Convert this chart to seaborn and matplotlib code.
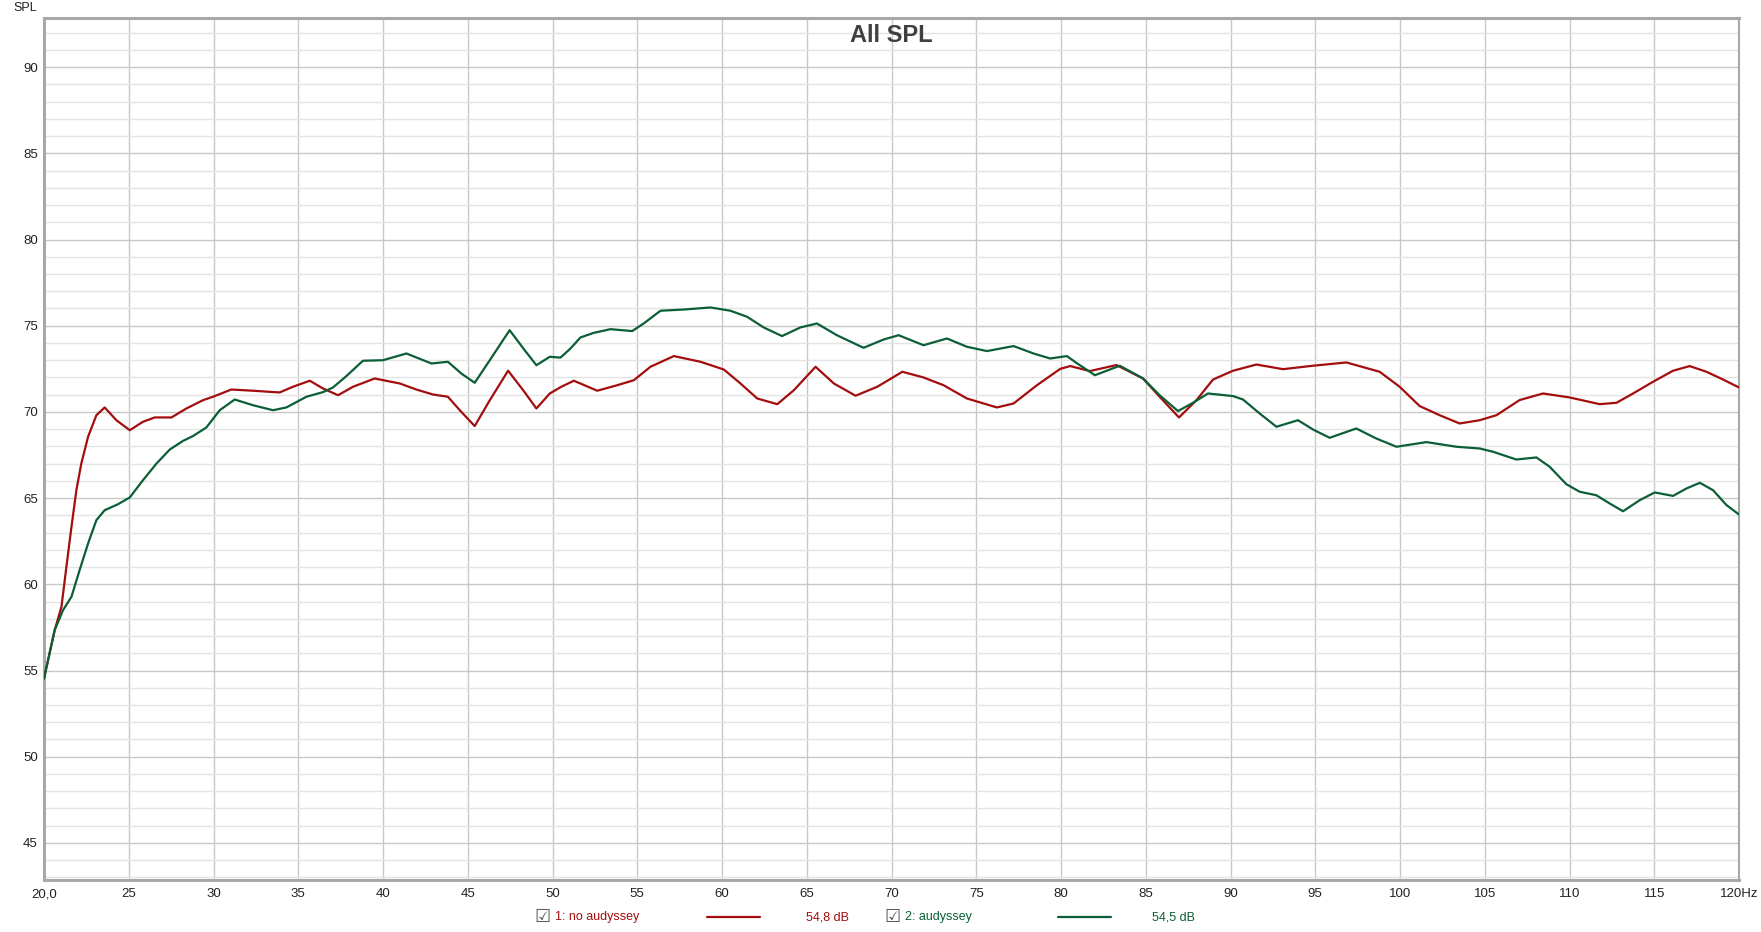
import numpy as np
import pandas as pd
import matplotlib
matplotlib.use("Agg")
import matplotlib.pyplot as plt
import seaborn as sns
from matplotlib.ticker import MultipleLocator

red_hz = [20.0, 20.63, 21.03, 21.32, 21.62, 21.91, 22.2, 22.6, 23.09, 23.58,
          24.27, 25.06, 25.84, 26.53, 27.52, 28.4, 29.38, 29.97, 31.05, 32.33,
          33.9, 34.69, 35.68, 36.46, 37.35, 38.23, 39.51, 40.99, 41.97, 42.95,
          43.83, 44.53, 45.41, 46.3, 47.38, 48.27, 49.05, 49.84, 50.5, 51.26,
          52.64, 53.82, 54.8, 55.78, 57.16, 58.73, 60.11, 61.09, 62.08, 63.26,
          64.24, 65.52, 66.6, 67.88, 69.16, 70.64, 71.89, 73.07, 74.45, 76.22,
          77.2, 78.58, 79.96, 80.55, 81.7, 83.27, 84.84, 85.82, 86.96, 87.99,
          88.97, 90.15, 91.53, 93.1, 94.87, 96.84, 98.8, 99.98, 101.16, 102.34,
          103.52, 104.7, 105.69, 107.06, 108.44, 110.01, 111.78, 112.77, 113.75, 114.93,
          116.11, 117.09, 118.08, 119.06, 120.0]
red_db = [54.54, 57.34, 58.7, 61.0, 63.33, 65.46, 67.0, 68.56, 69.81, 70.26,
          69.52, 68.94, 69.43, 69.68, 69.68, 70.2, 70.68, 70.88, 71.3, 71.23,
          71.13, 71.46, 71.81, 71.36, 70.97, 71.46, 71.94, 71.65, 71.3, 71.01,
          70.88, 70.1, 69.18, 70.68, 72.39, 71.26, 70.2, 71.07, 71.45, 71.81,
          71.23, 71.55, 71.84, 72.62, 73.24, 72.91, 72.46, 71.65, 70.78, 70.45,
          71.26, 72.62, 71.65, 70.94, 71.46, 72.33, 72.0, 71.55, 70.78, 70.26,
          70.49, 71.55, 72.5, 72.66, 72.37, 72.72, 71.94, 70.88, 69.68, 70.68,
          71.88, 72.39, 72.75, 72.48, 72.68, 72.87, 72.33, 71.46, 70.34, 69.81,
          69.33, 69.52, 69.81, 70.69, 71.07, 70.84, 70.45, 70.53, 71.07, 71.75,
          72.39, 72.66, 72.33, 71.88, 71.42]

green_hz = [20.0, 20.63, 21.12, 21.62, 22.1, 22.6, 23.09, 23.58, 24.37, 25.06,
            25.84, 26.63, 27.42, 28.2, 28.79, 29.58, 30.37, 31.25, 32.33, 33.51,
            34.3, 35.48, 36.46, 37.05, 37.84, 38.82, 40.0, 41.38, 42.86, 43.83,
            44.62, 45.41, 46.3, 47.47, 48.36, 49.05, 49.84, 50.47, 51.06, 51.65,
            52.44, 53.42, 54.7, 55.38, 56.37, 57.75, 59.32, 60.5, 61.48, 62.46,
            63.54, 64.62, 65.6, 66.78, 68.35, 69.53, 70.42, 71.89, 73.27, 74.45,
            75.63, 77.2, 78.38, 79.36, 80.35, 80.9, 82.0, 83.47, 84.84, 85.82,
            86.9, 87.79, 88.67, 90.15, 90.74, 91.72, 92.71, 93.98, 94.87, 95.85,
            97.42, 98.6, 99.79, 101.56, 103.33, 104.7, 105.49, 106.86, 108.05, 108.83,
            109.81, 110.6, 111.58, 112.37, 113.16, 114.14, 115.03, 116.11, 116.9, 117.69,
            118.47, 119.26, 120.0]
green_db = [54.54, 57.34, 58.5, 59.28, 60.82, 62.37, 63.72, 64.3, 64.65, 65.04,
            66.04, 67.0, 67.82, 68.32, 68.6, 69.1, 70.1, 70.72, 70.39, 70.1,
            70.26, 70.88, 71.15, 71.42, 72.08, 72.97, 73.0, 73.39, 72.81, 72.91,
            72.23, 71.69, 73.0, 74.74, 73.58, 72.71, 73.2, 73.15, 73.68, 74.32,
            74.59, 74.8, 74.69, 75.13, 75.87, 75.94, 76.06, 75.87, 75.52, 74.9,
            74.4, 74.9, 75.13, 74.45, 73.72, 74.2, 74.45, 73.87, 74.26, 73.78,
            73.53, 73.82, 73.39, 73.1, 73.24, 72.85, 72.13, 72.68, 71.94, 70.97,
            70.05, 70.53, 71.07, 70.92, 70.72, 69.91, 69.14, 69.52, 68.98, 68.5,
            69.04, 68.46, 67.98, 68.25, 67.98, 67.88, 67.69, 67.24, 67.36, 66.82,
            65.81, 65.37, 65.17, 64.69, 64.24, 64.88, 65.33, 65.13, 65.56, 65.89,
            65.46, 64.6, 64.05]

series_names = ["1: no audyssey", "2: audyssey"]
series_levels = ["54,8 dB", "54,5 dB"]
x_ticks = [20, 25, 30, 35, 40, 45, 50, 55, 60, 65, 70, 75, 80, 85, 90, 95, 100, 105, 110, 115, 120]
y_ticks = [45, 50, 55, 60, 65, 70, 75, 80, 85, 90]

RED = "#a30d0d"
GREEN = "#0b5e36"

df = pd.concat([
    pd.DataFrame({"hz": red_hz, "db": red_db, "trace": series_names[0]}),
    pd.DataFrame({"hz": green_hz, "db": green_db, "trace": series_names[1]}),
])

sns.set_style("white")
plt.rcParams["font.family"] = ["Liberation Sans", "DejaVu Sans"]

fig = plt.figure(figsize=(17.61, 9.32), dpi=100)
ax = fig.add_axes([44 / 1761, 1 - 880 / 932, (1739 - 44) / 1761, (880 - 18) / 932])

sns.lineplot(data=df, x="hz", y="db", hue="trace", sort=False,
             palette={series_names[0]: RED, series_names[1]: GREEN},
             linewidth=1.6, legend=False, ax=ax, zorder=3,
             solid_joinstyle="round", solid_capstyle="round")

ax.set_xlim(20, 120)
ax.set_ylim(42.85, 92.85)
ax.set_xticks(x_ticks)
ax.set_xticklabels(["20,0"] + [str(t) for t in x_ticks[1:-1]] + ["120Hz"])
ax.set_yticks(y_ticks)
ax.yaxis.set_minor_locator(MultipleLocator(1))
ax.grid(which="major", color="#c8c8c8", linewidth=1.0, zorder=0)
ax.grid(which="minor", axis="y", color="#e4e4e4", linewidth=1.0, zorder=0)
ax.set_axisbelow(True)
ax.tick_params(axis="both", which="major", labelsize=9.5, colors="#222222",
               length=3, width=0.8, color="#b0b0b0")
ax.tick_params(axis="x", which="major", pad=3)
ax.tick_params(axis="y", which="major", pad=1.5)
ax.tick_params(axis="both", which="minor", length=0)
ax.set_xlabel("")
ax.set_ylabel("")
for side, sp in ax.spines.items():
    sp.set_visible(True)
    sp.set_color("#a8a8a8")
    sp.set_linewidth(2.2 if side in ("left", "bottom", "top") else 1.5)

fig.text(891 / 1761, 1 - 36 / 932, "All SPL", ha="center", va="center",
         fontsize=17, fontweight="bold", color="#404040")
fig.text(25 / 1761, 1 - 8 / 932, "SPL", ha="center", va="center", fontsize=9, color="#222222")

# legend strip at the bottom
ly = 1 - 917 / 932
for i, (name, level, col) in enumerate(zip(series_names, series_levels, [RED, GREEN])):
    x0 = [534, 884][i]
    fig.text(x0 / 1761, ly, "\u2611", ha="left", va="center", fontsize=13,
             color="#555555", family="DejaVu Sans")
    fig.text([555, 905][i] / 1761, ly, name, ha="left", va="center", fontsize=9, color=col)
    lx = [707, 1058][i]
    fig.add_artist(plt.Line2D([lx / 1761, (lx + 53) / 1761], [ly, ly], color=col, linewidth=1.6))
    fig.text([806, 1152][i] / 1761, ly, level, ha="left", va="center", fontsize=9, color=col)

fig.savefig("out.png", dpi=100)
